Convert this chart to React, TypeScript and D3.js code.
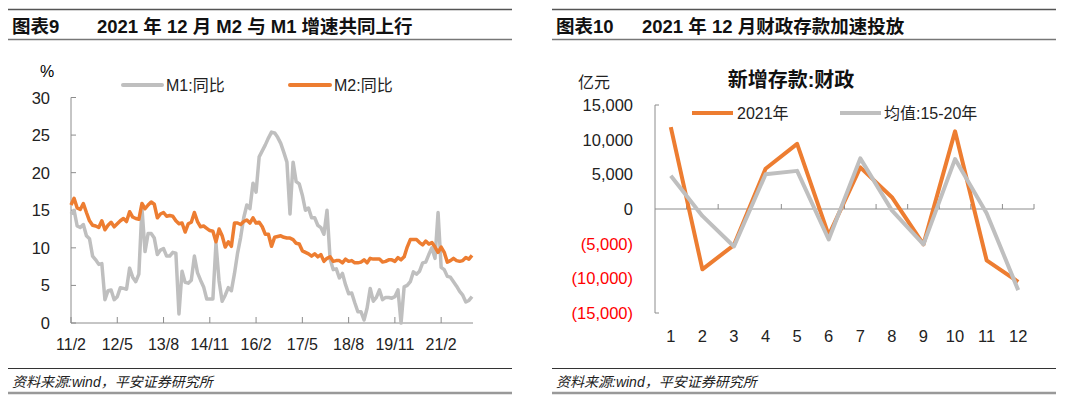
import * as d3 from "d3";

const FONT = "'Liberation Sans', Arial, 'Noto Sans CJK SC', sans-serif";
const ORANGE = "#ED7D31";
const GREY = "#BFBFBF";
const AXIS = "#8c8c8c";

// M1 / M2 yoy (%), monthly from 2011-02 to 2021-12
const m1Yoy = [
  14.5, 15.0, 12.9, 12.7, 13.1, 11.6, 11.2, 8.9, 8.4, 7.8, 7.9,
  3.1, 4.3, 4.4, 3.1, 3.5, 4.7, 4.6, 4.5, 7.3, 6.1, 5.5, 6.5,
  15.3, 9.5, 11.9, 11.9, 11.3, 9.1, 9.7, 9.9, 8.9, 8.9, 9.4, 9.3,
  1.2, 6.9, 5.4, 5.3, 5.7, 8.9, 6.7, 5.7, 4.8, 3.2, 3.2, 3.2,
  10.6, 5.6, 2.9, 3.7, 4.7, 4.3, 6.6, 9.3, 11.4, 14.0, 15.7, 15.2,
  18.6, 17.4, 22.1, 22.9, 23.7, 24.6, 25.4, 25.3, 24.7, 23.9, 22.7, 21.4,
  14.5, 21.4, 18.8, 18.5, 17.0, 15.0, 15.3, 14.0, 14.0, 13.0, 12.7, 11.8,
  15.0, 8.5, 7.1, 7.2, 6.0, 6.6, 5.1, 3.9, 4.0, 2.7, 1.5, 1.5,
  0.4, 2.0, 4.6, 2.9, 3.4, 4.4, 3.1, 3.4, 3.4, 3.3, 3.5, 4.4,
  0.0, 4.8, 5.0, 5.5, 6.8, 6.5, 6.9, 8.0, 8.1, 9.1, 10.0, 8.6,
  14.7, 7.4, 7.1, 6.2, 6.1, 5.5, 4.9, 4.2, 3.7, 2.8, 3.0, 3.5,
];
const m2Yoy = [
  15.7, 16.6, 15.3, 15.1, 15.9, 14.7, 13.6, 13.0, 12.9, 12.7, 13.6,
  12.4, 13.0, 13.4, 12.8, 13.2, 13.6, 13.9, 13.5, 14.8, 14.1, 13.9, 13.8,
  15.9, 15.2, 15.7, 16.1, 15.8, 14.0, 14.5, 14.7, 14.2, 14.3, 14.2, 13.6,
  13.2, 13.3, 12.1, 13.2, 13.4, 14.7, 13.5, 12.8, 12.9, 12.6, 12.3, 12.2,
  10.8, 12.5, 11.6, 10.1, 10.8, 10.2, 13.3, 13.3, 13.1, 13.5, 13.7, 13.3,
  14.0, 13.3, 13.4, 12.8, 11.8, 11.8, 10.2, 11.4, 11.5, 11.6, 11.4, 11.3,
  11.3, 11.1, 10.6, 10.5, 9.6, 9.4, 9.2, 8.9, 9.2, 8.8, 9.1, 8.2,
  8.6, 8.8, 8.2, 8.3, 8.3, 8.0, 8.5, 8.2, 8.3, 8.0, 8.0, 8.1,
  8.4, 8.0, 8.6, 8.5, 8.5, 8.5, 8.1, 8.2, 8.4, 8.4, 8.2, 8.7,
  8.4, 8.8, 10.1, 11.1, 11.1, 11.1, 10.7, 10.4, 10.9, 10.5, 10.7, 10.1,
  9.4, 10.1, 9.4, 8.1, 8.3, 8.6, 8.3, 8.2, 8.3, 8.7, 8.5, 9.0,
];
const leftXTicks = ["11/2", "12/5", "13/8", "14/11", "16/2", "17/5", "18/8", "19/11", "21/2"];
const leftYTicks = [0, 5, 10, 15, 20, 25, 30];

// fiscal deposit change (100m yuan), by month
const months = [1, 2, 3, 4, 5, 6, 7, 8, 9, 10, 11, 12];
const fiscal2021 = [11800, -8700, -5200, 5800, 9400, -3800, 6000, 1700, -5100, 11200, -7400, -10500];
const fiscalAvg = [4800, -1000, -5400, 5000, 5500, -4400, 7300, -200, -5100, 7200, -600, -11700];
const rightYTicks = [-15000, -10000, -5000, 0, 5000, 10000, 15000];

// header / footer frame around each panel
function Frame({ x0, x1, tag, title, titleX }) {
  return (
    <g>
      <line x1={x0} x2={x1} y1={9.5} y2={9.5} stroke="#555" strokeWidth={1.5} />
      <line x1={x0} x2={x1} y1={39.5} y2={39.5} stroke="#777" strokeWidth={1.5} />
      <text x={x0 + 4} y={33} fontSize={18.5} fontWeight="bold" fill="#111">{tag}</text>
      <text x={titleX} y={33} fontSize={18.5} fontWeight="bold" fill="#111">{title}</text>
      <line x1={x0} x2={x1} y1={368.5} y2={368.5} stroke="#333" strokeWidth={1.2} />
      <line x1={x0} x2={x1} y1={393} y2={393} stroke="#999" strokeWidth={2.5} />
      <text x={x0 + 4} y={387} fontSize={14} fontStyle="italic" fill="#222">资料来源:wind，平安证券研究所</text>
    </g>
  );
}

function MoneyChart() {
  const x = d3.scaleLinear().domain([0, m1Yoy.length - 1]).range([71, 472]);
  const y = d3.scaleLinear().domain([0, 30]).range([323, 97.5]);
  const line = d3.line<number>().x((d, i) => x(i)).y((d) => y(d));
  // "yy/m" -> month index from 2011-02
  const tickIdx = (lbl: string) => {
    const [yy, mm] = lbl.split("/").map(Number);
    return (yy - 11) * 12 + mm - 2;
  };

  return (
    <g>
      <text x={40} y={77} fontSize={16}>%</text>
      {/* legend */}
      <line x1={123} x2={162} y1={85} y2={85} stroke={GREY} strokeWidth={4} strokeLinecap="round" />
      <text x={166} y={91} fontSize={16} fill="#222">M1:同比</text>
      <line x1={290} x2={330} y1={85} y2={85} stroke={ORANGE} strokeWidth={4} strokeLinecap="round" />
      <text x={334} y={91} fontSize={16} fill="#222">M2:同比</text>

      {/* y axis */}
      <line x1={x(0)} x2={x(0)} y1={y(30)} y2={y(0)} stroke={AXIS} />
      {leftYTicks.map((t) => (
        <g key={t}>
          <line x1={x(0)} x2={x(0) + 5} y1={y(t)} y2={y(t)} stroke={AXIS} />
          <text x={50} y={y(t) + 6} fontSize={16.5} textAnchor="end" fill="#222">{t}</text>
        </g>
      ))}

      {/* x axis */}
      <line x1={x(0)} x2={x(m1Yoy.length - 1) + 1} y1={y(0)} y2={y(0)} stroke={AXIS} />
      {leftXTicks.map((l) => (
        <g key={l}>
          <line x1={x(tickIdx(l))} x2={x(tickIdx(l))} y1={y(0)} y2={y(0) - 6} stroke={AXIS} />
          <text x={x(tickIdx(l))} y={350} fontSize={16} textAnchor="middle" fill="#222">{l}</text>
        </g>
      ))}

      <path d={line(m1Yoy) ?? ""} fill="none" stroke={GREY} strokeWidth={3.5} strokeLinejoin="round" />
      <path d={line(m2Yoy) ?? ""} fill="none" stroke={ORANGE} strokeWidth={3.5} strokeLinejoin="round" />
    </g>
  );
}

function FiscalChart() {
  const x = d3.scaleBand<number>().domain(months).range([655, 1034]);
  const y = d3.scaleLinear().domain([-15000, 15000]).range([313, 105]);
  const cx = (m: number) => (x(m) ?? 0) + x.bandwidth() / 2;
  const line = d3.line<number>().x((d, i) => cx(months[i])).y((d) => y(d));
  const fmt = d3.format(",");

  return (
    <g>
      <text x={578} y={88} fontSize={16} fill="#222">亿元</text>
      <text x={791} y={87} fontSize={20} fontWeight="bold" textAnchor="middle" fill="#111">新增存款:财政</text>
      {/* legend */}
      <line x1={692} x2={733} y1={113} y2={113} stroke={ORANGE} strokeWidth={4} />
      <text x={737} y={119} fontSize={16} fill="#222">2021年</text>
      <line x1={840} x2={881} y1={113} y2={113} stroke={GREY} strokeWidth={4} />
      <text x={884} y={119} fontSize={16} fill="#222">均值:15-20年</text>

      {/* y axis */}
      <line x1={655} x2={655} y1={y(15000)} y2={y(-15000)} stroke={AXIS} />
      <line x1={655} x2={659} y1={y(15000)} y2={y(15000)} stroke={AXIS} />
      <line x1={655} x2={659} y1={y(-15000)} y2={y(-15000)} stroke={AXIS} />
      {rightYTicks.map((t) => (
        <text key={t} x={633} y={y(t) + 6} fontSize={16.5} textAnchor="end" fill={t < 0 ? "#ff0000" : "#222"}>
          {t < 0 ? `(${fmt(-t)})` : fmt(t)}
        </text>
      ))}

      {/* x axis on zero */}
      <line x1={655} x2={1034} y1={y(0)} y2={y(0)} stroke={AXIS} />
      {months.map((m) => (
        <g key={m}>
          <line x1={(x(m) ?? 0) + x.bandwidth()} x2={(x(m) ?? 0) + x.bandwidth()} y1={y(0)} y2={y(0) - 5} stroke={AXIS} />
          <text x={cx(m)} y={342} fontSize={16.5} textAnchor="middle" fill="#222">{m}</text>
        </g>
      ))}

      <path d={line(fiscal2021) ?? ""} fill="none" stroke={ORANGE} strokeWidth={4} strokeLinejoin="round" />
      <path d={line(fiscalAvg) ?? ""} fill="none" stroke={GREY} strokeWidth={4} strokeLinejoin="round" />
    </g>
  );
}

export default function App() {
  return (
    <svg width={1065} height={399} style={{ position: "absolute", left: 0, top: 0, background: "#fff" }} fontFamily={FONT}>
      <Frame x0={8} x1={512} tag="图表9" titleX={97} title="2021 年 12 月 M2 与 M1 增速共同上行" />
      <Frame x0={552} x1={1056} tag="图表10" titleX={642} title="2021 年 12 月财政存款加速投放" />
      <MoneyChart />
      <FiscalChart />
    </svg>
  );
}
